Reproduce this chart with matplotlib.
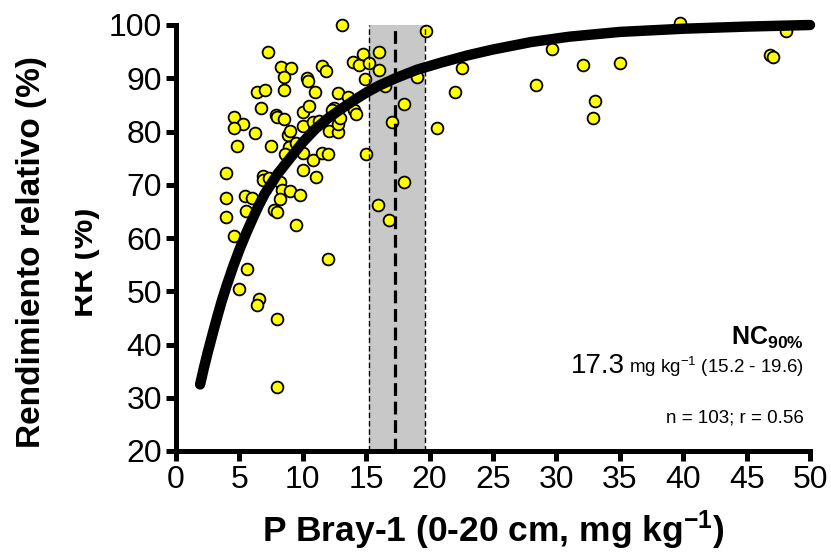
import numpy as np
import matplotlib.pyplot as plt
from matplotlib.patches import Rectangle

plt.rcParams['font.family'] = ['Liberation Sans', 'DejaVu Sans']
plt.rcParams['mathtext.fontset'] = 'custom'
plt.rcParams['mathtext.rm'] = 'Liberation Sans'
plt.rcParams['mathtext.bf'] = 'Liberation Sans:bold'
plt.rcParams['mathtext.default'] = 'regular'

# P Bray-1 (mg/kg) and relative yield (%)
p_bray = [13.07, 7.28, 8.30, 9.05, 8.52, 10.33, 10.40, 11.53, 11.82, 13.95,
          14.40, 14.72, 15.20, 16.00, 16.00, 14.90, 6.40, 7.00, 8.54, 11.00,
          12.80, 6.72, 7.89, 7.97, 8.50, 9.99, 10.48, 4.55, 5.25, 4.60,
          6.25, 10.00, 8.86, 9.00, 10.83, 12.46, 12.05, 12.80, 12.80, 12.93,
          14.00, 14.22, 4.78, 7.49, 8.94, 10.02, 10.77, 11.52, 12.01, 14.98,
          3.94, 6.84, 10.02, 11.04, 8.20, 3.97, 5.44, 5.97, 8.33, 9.00,
          9.75, 8.23, 7.70, 7.99, 3.97, 9.46, 4.60, 12.01, 5.62, 4.98,
          6.57, 6.41, 7.96, 7.96, 17.00, 18.00, 18.00, 15.96, 16.80, 18.98,
          19.72, 22.53, 22.00, 20.61, 28.39, 29.68, 32.12, 35.00, 33.04, 32.91,
          39.75, 46.85, 47.10, 48.08, 6.90, 7.30, 8.60, 9.50, 11.30, 12.30,
          5.50, 13.60, 16.50]
rend_rel = [100.0, 94.9, 92.1, 91.9, 90.3, 90.1, 89.5, 92.3, 91.3, 93.0,
            92.4, 94.6, 92.9, 94.9, 91.5, 89.8, 87.5, 87.7, 87.8, 87.5,
            87.2, 84.4, 83.1, 82.8, 82.4, 83.7, 84.8, 82.7, 81.4, 80.7,
            79.7, 81.0, 79.4, 80.1, 81.8, 84.5, 80.1, 80.0, 81.5, 82.5,
            84.0, 83.3, 77.3, 77.2, 77.0, 76.0, 74.7, 76.0, 75.7, 75.8,
            72.3, 71.6, 72.8, 71.5, 70.6, 67.6, 67.8, 67.5, 69.0, 68.9,
            68.1, 67.3, 65.3, 64.8, 64.0, 62.5, 60.3, 56.1, 54.1, 50.4,
            48.5, 47.5, 44.8, 32.1, 81.7, 85.2, 70.6, 66.2, 63.4, 90.2,
            98.9, 92.0, 87.4, 80.6, 88.7, 95.5, 92.5, 92.8, 85.8, 82.5,
            100.3, 94.4, 93.9, 98.9, 70.8, 71.2, 75.8, 77.8, 82.0, 84.0,
            65.0, 86.5, 88.5]

# fitted curve
curve_x = [1.9, 2.2, 2.5, 2.8, 3.0, 3.3, 3.6, 4.0, 4.5, 5.0, 5.5, 6.0, 6.5,
           7, 8, 9, 10, 11, 12, 13, 14, 15, 16, 17.3, 19, 21, 23, 25, 28,
           31, 35, 40, 45, 50]
curve_y = [32.5, 35.6, 38.5, 41.2, 43.0, 45.6, 48.1, 51.1, 54.6, 57.8, 60.7,
           63.4, 66.0, 68.3, 72, 75, 78, 80.5, 82.5, 84.2, 85.8, 87.3, 88.6,
           90, 91.6, 93, 94.3, 95.4, 96.8, 97.8, 98.7, 99.3, 99.7, 100]

nc90 = 17.3
ci_low, ci_high = 15.2, 19.6

fig = plt.figure(figsize=(8.31, 5.58), dpi=100)
ax = fig.add_axes([176 / 831, 1 - 451 / 558, 634 / 831, 426 / 558])

ax.axvspan(ci_low, ci_high, color='#c8c8c8', lw=0, zorder=1)
ax.scatter(p_bray, rend_rel, s=72, c='#ffff00', edgecolors='black',
           linewidths=1.3, zorder=3, clip_on=False)
for xv in (ci_low, ci_high):
    ax.axvline(xv, color='black', lw=1.0, dashes=(4, 2), zorder=4)
ax.axvline(nc90, color='black', lw=2.3, dashes=(4, 1.8), zorder=4)
ax.plot(curve_x, curve_y, color='black', lw=7.5, solid_capstyle='round',
        solid_joinstyle='round', zorder=5, clip_on=False)

ax.set_xlim(0, 50)
ax.set_ylim(20, 100)
ax.set_xticks(np.arange(0, 51, 5))
ax.set_yticks(np.arange(20, 101, 10))
for side in ('top', 'right'):
    ax.spines[side].set_visible(False)
for side in ('left', 'bottom'):
    ax.spines[side].set_linewidth(3.6)
    ax.spines[side].set_capstyle('projecting')
ax.tick_params(axis='both', width=3.6, length=7, labelsize=23, pad=3)

ax.set_xlabel(r'P Bray-1 (0-20 cm, mg kg$^{-1}$)', fontsize=25.5,
              fontweight='bold', labelpad=10)

# two overlapping y labels, the outer one hiding part of the inner one
fig.text(85 / 831, 1 - 262 / 558, 'RR (%)', rotation=90, fontsize=24,
         fontweight='bold', ha='center', va='center', zorder=3)
fig.patches.append(Rectangle((0, 0), 75 / 831, 1, transform=fig.transFigure,
                             facecolor='white', edgecolor='none', zorder=3.5))
fig.text(32 / 831, 1 - 252 / 558, 'Rendimiento relativo (%)', rotation=90,
         fontsize=24, fontweight='bold', ha='center', va='center', zorder=4)

ax.text(0.99, 0.265, r'NC$_{90\%}$', transform=ax.transAxes, fontsize=18,
        fontweight='bold', ha='right', va='center')
small = ax.text(0.99, 0.183, r'mg kg$^{-1}$ (15.2 - 19.6)',
                transform=ax.transAxes, fontsize=13.5, ha='right',
                va='baseline')
fig.canvas.draw()
bb = small.get_window_extent(renderer=fig.canvas.get_renderer())
x_left = ax.transAxes.inverted().transform((bb.x0 - 4, 0))[0]
ax.text(x_left, 0.183, '17.3', transform=ax.transAxes, fontsize=20,
        ha='right', va='baseline')
ax.text(0.99, 0.077, 'n = 103; r = 0.56', transform=ax.transAxes,
        fontsize=13.5, ha='right', va='center')

fig.savefig('out.png', dpi=100)
